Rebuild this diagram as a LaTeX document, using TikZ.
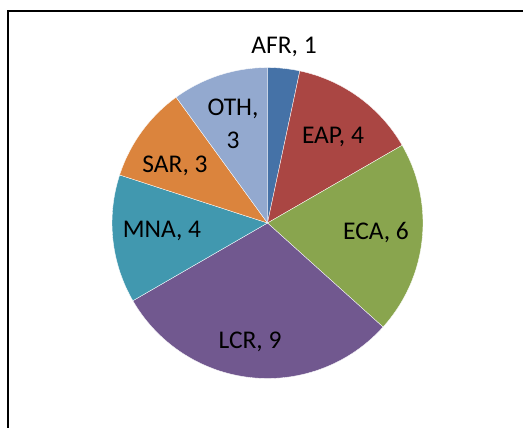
\documentclass[tikz,border=0pt]{standalone}
\usepackage{fontspec}
\setmainfont{Carlito}
\usepackage{xcolor}

\begin{document}
\begin{tikzpicture}[x=0.02cm,y=0.02cm]
\colorlet{afr}{rgb,255:red,69;green,114;blue,167};
\colorlet{eap}{rgb,255:red,170;green,70;blue,67};
\colorlet{eca}{rgb,255:red,137;green,165;blue,78};
\colorlet{lcr}{rgb,255:red,113;green,88;blue,143};
\colorlet{mna}{rgb,255:red,65;green,152;blue,175};
\colorlet{sar}{rgb,255:red,219;green,132;blue,61};
\colorlet{oth}{rgb,255:red,147;green,169;blue,207};
\def\pieradius{3.11cm};
\tikzset{piecelabel/.style={inner sep=0pt,align=center,font=\fontsize{14.5}{18.5}\selectfont}}

\useasboundingbox (0,0) rectangle (523,427);
\clip (0,0) rectangle (523,427);

% chart frame
\draw[line width=1.1pt] (8,-20) rectangle (560,416);

% Slices, clockwise from the top
\coordinate (pie) at (267.5,204);
\foreach \from/\to/\col in {90/78/afr,78/30/eap,30/-42/eca,-42/-150/lcr,-150/-198/mna,-198/-234/sar,-234/-270/oth}{
\fill[\col,draw=white,line width=0.2pt] (pie) -- ++(\from:\pieradius) arc[start angle=\from,end angle=\to,radius=\pieradius] -- cycle;
}

% Data labels
\node[piecelabel] (afrlabel) at (284,380) {AFR, 1};
\node[piecelabel] (eaplabel) at (333,290) {EAP, 4};
\node[piecelabel] (ecalabel) at (376,194) {ECA, 6};
\node[piecelabel] (lcrlabel) at (250,85) {LCR, 9};
\node[piecelabel] (mnalabel) at (162,196) {MNA, 4};
\node[piecelabel] (sarlabel) at (175,261) {SAR, 3};
\node[piecelabel] (othlabel) at (233,303) {OTH,\\3};
\end{tikzpicture}
\end{document}
